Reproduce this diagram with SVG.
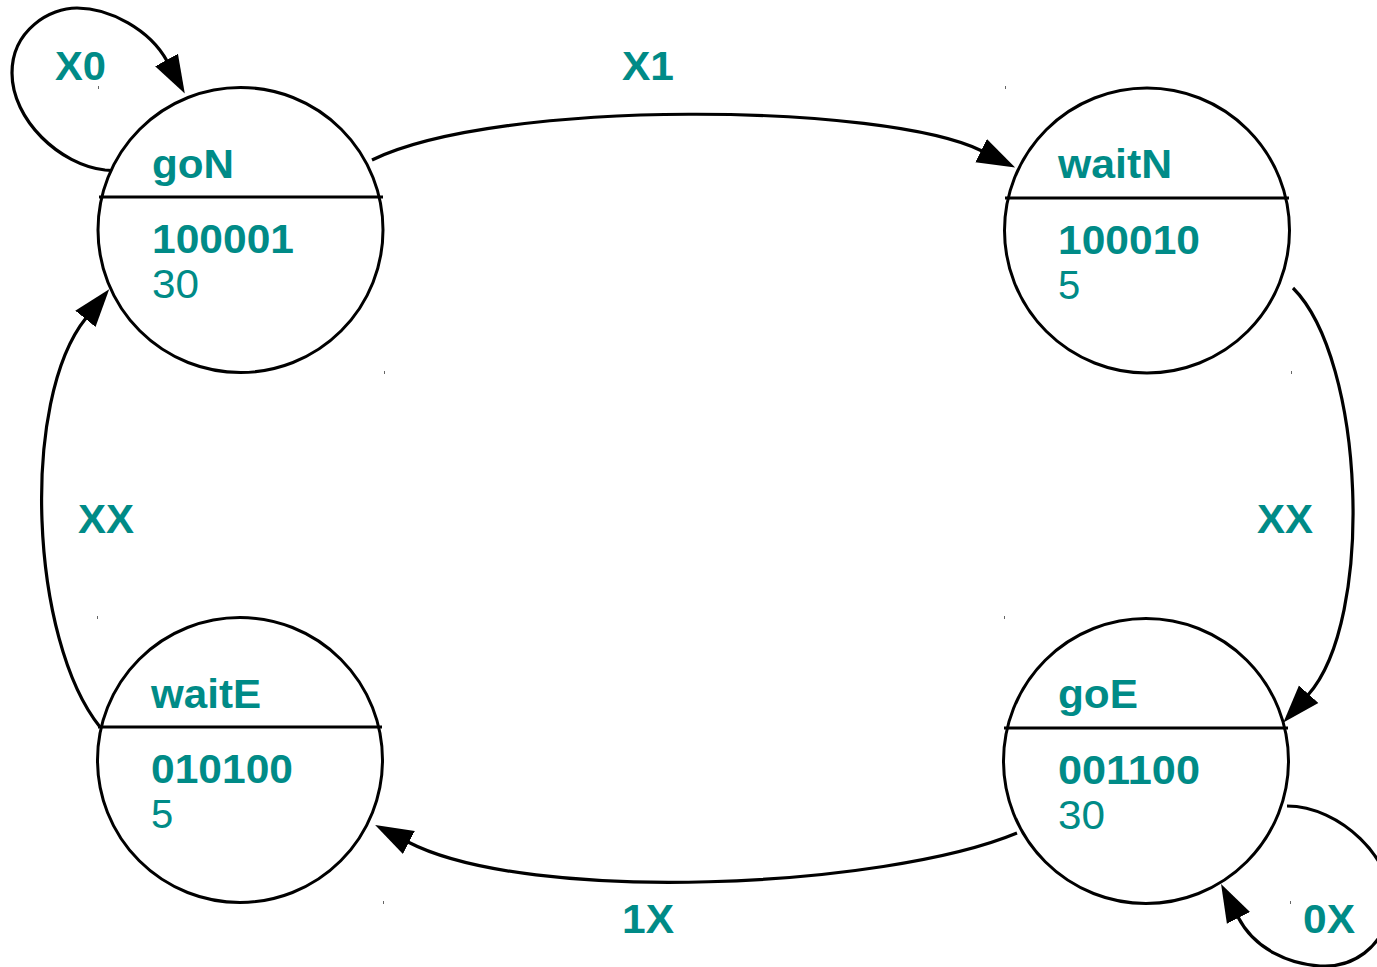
<svg xmlns="http://www.w3.org/2000/svg" width="1377" height="967" viewBox="0 0 1377 967">
  <style>
    .state { fill: #ffffff; stroke: #000000; stroke-width: 3; }
    .divider { stroke: #000000; stroke-width: 3; }
    .tick { stroke: #666666; stroke-width: 1; }
    .name, .code, .label { font-family: "Liberation Sans", Arial, sans-serif; font-size: 40px; font-weight: bold; fill: #008b87; }
    .time { font-family: "Liberation Sans", Arial, sans-serif; font-size: 40px; fill: #008b87; }
    .edge { fill: none; stroke: #000000; stroke-width: 3.2; }
  </style>
  <defs>
    <marker id="arrow" viewBox="0 -15 40 30" refX="1" refY="0" markerWidth="40" markerHeight="30" markerUnits="userSpaceOnUse" orient="auto">
      <path d="M0,-13 L38,0 L0,13 Z" fill="#000000"/>
    </marker>
  </defs>
  <rect width="1377" height="967" fill="#ffffff"/>

  <!-- transitions -->
  <g id="connectors">
    <path id="e-goN-goN" class="edge" marker-end="url(#arrow)" d="M118,171 L105,170 C60,165 12,120 12,73 C12,30 50,8 77,8 C110,8 150,30 167,61"/>
    <path id="e-goN-waitN" class="edge" marker-end="url(#arrow)" d="M372,160 C500,98 885,103 982,151"/>
    <path id="e-waitN-goE" class="edge" marker-end="url(#arrow)" d="M1293,288 C1365,360 1375,620 1308,695"/>
    <path id="e-goE-waitE" class="edge" marker-end="url(#arrow)" d="M1017,833 C885,888 530,905 408,842"/>
    <path id="e-waitE-goN" class="edge" marker-end="url(#arrow)" d="M100,727 C30,640 20,400 86,318"/>
    <path id="e-goE-goE" class="edge" marker-end="url(#arrow)" d="M1287,806 C1340,806 1395,860 1390,905 C1385,950 1350,968 1320,966 C1290,964 1255,950 1238,917"/>
    <text class="label" x="55" y="80" textLength="51" lengthAdjust="spacingAndGlyphs">X0</text>
    <text class="label" x="622" y="80" textLength="52" lengthAdjust="spacingAndGlyphs">X1</text>
    <text class="label" x="1257" y="533" textLength="56" lengthAdjust="spacingAndGlyphs">XX</text>
    <text class="label" x="622" y="933" textLength="52" lengthAdjust="spacingAndGlyphs">1X</text>
    <text class="label" x="78" y="533" textLength="56" lengthAdjust="spacingAndGlyphs">XX</text>
    <text class="label" x="1303" y="933" textLength="52" lengthAdjust="spacingAndGlyphs">0X</text>
  </g>

  <!-- states -->
  <g id="goN">
    <circle class="state" cx="240.5" cy="230" r="142.5"/>
    <line class="divider" x1="99" y1="197" x2="383" y2="197"/>
    <line class="tick" x1="98.5" y1="86" x2="98.5" y2="89"/>
    <line class="tick" x1="384.5" y1="371" x2="384.5" y2="374"/>
    <text class="name" x="152" y="178" textLength="82" lengthAdjust="spacingAndGlyphs">goN</text>
    <text class="code" x="152" y="253" textLength="142" lengthAdjust="spacingAndGlyphs">100001</text>
    <text class="time" x="152" y="298" textLength="47" lengthAdjust="spacingAndGlyphs">30</text>
  </g>
  <g id="waitN">
    <circle class="state" cx="1147" cy="230.5" r="142.5"/>
    <line class="divider" x1="1005" y1="198" x2="1289" y2="198"/>
    <line class="tick" x1="1005.5" y1="86" x2="1005.5" y2="89"/>
    <line class="tick" x1="1291.5" y1="371" x2="1291.5" y2="374"/>
    <text class="name" x="1058" y="178" textLength="114" lengthAdjust="spacingAndGlyphs">waitN</text>
    <text class="code" x="1058" y="254" textLength="142" lengthAdjust="spacingAndGlyphs">100010</text>
    <text class="time" x="1058" y="299">5</text>
  </g>
  <g id="goE">
    <circle class="state" cx="1146" cy="761" r="142.5"/>
    <line class="divider" x1="1004" y1="728" x2="1288" y2="728"/>
    <line class="tick" x1="1004.5" y1="616" x2="1004.5" y2="619"/>
    <line class="tick" x1="1290.5" y1="901" x2="1290.5" y2="904"/>
    <text class="name" x="1058" y="708" textLength="80" lengthAdjust="spacingAndGlyphs">goE</text>
    <text class="code" x="1058" y="784" textLength="142" lengthAdjust="spacingAndGlyphs">001100</text>
    <text class="time" x="1058" y="829" textLength="47" lengthAdjust="spacingAndGlyphs">30</text>
  </g>
  <g id="waitE">
    <circle class="state" cx="240" cy="760" r="142.5"/>
    <line class="divider" x1="98" y1="727" x2="382" y2="727"/>
    <line class="tick" x1="97.5" y1="616" x2="97.5" y2="619"/>
    <line class="tick" x1="383.5" y1="901" x2="383.5" y2="904"/>
    <text class="name" x="151" y="708" textLength="110" lengthAdjust="spacingAndGlyphs">waitE</text>
    <text class="code" x="151" y="783" textLength="142" lengthAdjust="spacingAndGlyphs">010100</text>
    <text class="time" x="151" y="828">5</text>
  </g>
</svg>
